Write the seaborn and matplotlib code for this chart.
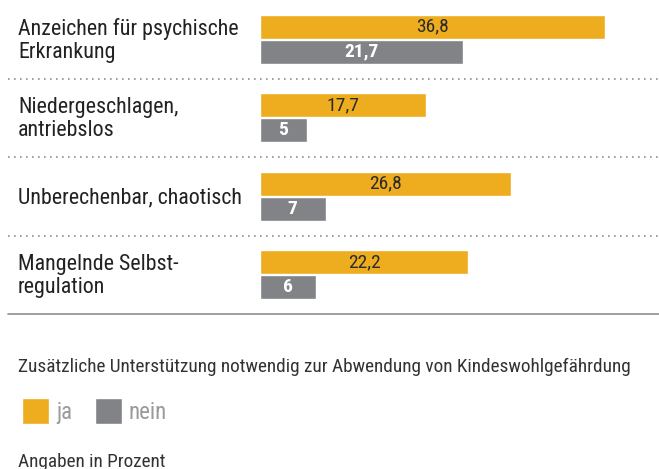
import matplotlib
matplotlib.use("Agg")
import matplotlib.pyplot as plt
import matplotlib.transforms as mtransforms
from matplotlib.patches import Patch
import pandas as pd
import seaborn as sns

# data
categories = ["Anzeichen für psychische\nErkrankung", "Niedergeschlagen,\nantriebslos",
              "Unberechenbar, chaotisch", "Mangelnde Selbst-\nregulation"]
ja = [36.8, 17.7, 26.8, 22.2]
nein = [21.7, 5, 7, 6]
series = ["ja", "nein"]
title = "Zusätzliche Unterstützung notwendig zur Abwendung von Kindeswohlgefährdung"
note = "Angaben in Prozent"

orange = "#EEAC1F"
grey = "#828387"

sns.set_theme(style="white")
plt.rcParams['font.family'] = ['Roboto Condensed', 'Archivo Narrow', 'Barlow Condensed', 'DejaVu Sans']

df = pd.DataFrame({
    "cat": categories * 2,
    "val": ja + nein,
    "serie": [series[0]] * len(ja) + [series[1]] * len(nein),
})

fig = plt.figure(figsize=(6.59, 4.69), dpi=100)
ax = fig.add_axes([260 / 659, 155 / 469, 399 / 659, 314 / 469])

sns.barplot(data=df, y="cat", x="val", hue="serie", orient="h",
            palette=[orange, grey], width=0.635, gap=0.04, saturation=1,
            legend=False, ax=ax)
ax.set_xlim(0, 42.56)
ax.set_ylim(3.5, -0.5)
ax.axis("off")

def fmt(v):
    return str(v).replace(".", ",")

ax.bar_label(ax.containers[0], labels=[fmt(v) for v in ja], label_type="center",
             color="#2b2b2b", fontsize=14)
ax.bar_label(ax.containers[1], labels=[fmt(v) for v in nein], label_type="center",
             color="white", fontsize=14, fontweight="bold")

# category labels on the left
trans = mtransforms.blended_transform_factory(fig.transFigure, ax.transData)
for i, c in enumerate(categories):
    ax.text(18 / 659, i + 0.02, c, transform=trans, ha="left", va="center",
            fontsize=15.8, color="#222222", linespacing=1.12)

# separators
x0 = (8 - 260) / 399
sep = mtransforms.blended_transform_factory(ax.transAxes, ax.transData)
for y in [0.5, 1.5, 2.5]:
    ax.plot([x0, 1], [y, y], transform=sep, color="#8f8f8f", lw=1.2,
            ls=(0, (1, 2.6)), clip_on=False)
ax.plot([x0, 1], [3.5, 3.5], transform=sep, color="#8f8f8f", lw=1.2, clip_on=False)

fig.text(18 / 659, 1 - 367 / 469, title, ha="left", va="center", fontsize=13.9, color="#333333")

handles = [Patch(facecolor=orange), Patch(facecolor=grey)]
leg = fig.legend(handles, series, loc="center left", bbox_to_anchor=(22 / 659, 1 - 411 / 469),
                 ncol=2, frameon=False, fontsize=16.5, handlelength=1.18, handleheight=1.4,
                 handletextpad=0.3, columnspacing=1.0, borderpad=0, borderaxespad=0)
for t in leg.get_texts():
    t.set_color("#9a9a9a")

fig.text(18 / 659, 1 - 462 / 469, note, ha="left", va="center", fontsize=13.9, color="#333333")

fig.savefig("out.png", dpi=100)
